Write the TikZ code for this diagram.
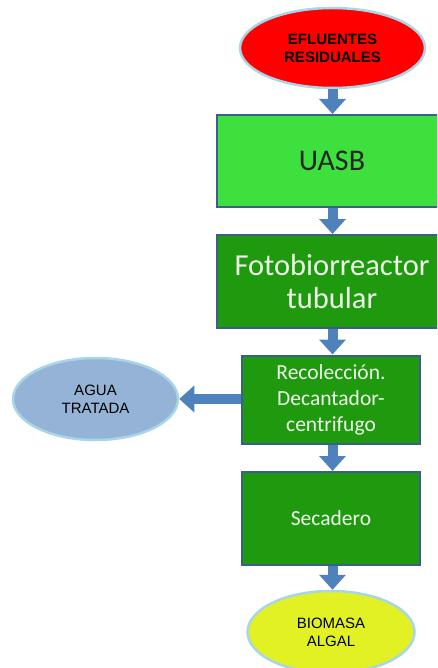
\documentclass[tikz,border=0pt]{standalone}
\usepackage{fontspec}
\setmainfont{Carlito}
\newfontfamily\arialf{Liberation Sans}
\usetikzlibrary{arrows.meta,shapes.geometric}
\definecolor{arrowblue}{HTML}{4F81BD}
\definecolor{boxborder}{HTML}{3A5F8B}
\definecolor{lightgreen}{HTML}{3DE03D}
\definecolor{darkgreen}{HTML}{1F9A0F}
\definecolor{ellborder}{HTML}{A8D6E6}
\definecolor{redfill}{HTML}{FF0000}
\definecolor{aguafill}{HTML}{95B3D7}
\definecolor{biofill}{HTML}{E2F124}
\definecolor{boxtext}{HTML}{EEF5E8}
\tikzset{
  procbox/.style={draw=boxborder, line width=2pt, rectangle, align=center, text=boxtext, inner sep=0pt},
  ellbox/.style={draw=ellborder, line width=2.5pt, ellipse, align=center, inner sep=0pt, font=\arialf},
  flow/.style={draw=arrowblue, line width=10pt, -{Triangle[width=26pt,length=15pt]}}
}
\begin{document}
\begin{tikzpicture}[x=1pt,y=-1pt]
\useasboundingbox (0,0) rectangle (437,668);
\clip (0,0) rectangle (437,668);
\node[ellbox, fill=redfill, minimum width=185pt, minimum height=80pt, font=\arialf\bfseries\fontsize{15}{18}\selectfont] (efl) at (332.5,48) {EFLUENTES\\RESIDUALES};
\node[procbox, fill=lightgreen, text=black!85, minimum width=230pt, minimum height=92pt, font=\fontsize{30}{34}\selectfont] (uasb) at (332,161) {UASB};
\node[procbox, fill=darkgreen, minimum width=230pt, minimum height=93pt, font=\fontsize{30.5}{33}\selectfont] (foto) at (332,281.5) {Fotobiorreactor\\tubular};
\node[procbox, fill=darkgreen, minimum width=178pt, minimum height=88pt, font=\fontsize{21.5}{26}\selectfont] (reco) at (331,399.5) {Recolección.\\Decantador-\\centrifugo};
\node[procbox, fill=darkgreen, minimum width=178pt, minimum height=93pt, font=\fontsize{21.5}{26}\selectfont] (seca) at (331,518.5) {Secadero};
\node[ellbox, fill=aguafill, minimum width=165pt, minimum height=82pt, font=\arialf\fontsize{15}{18}\selectfont] (agua) at (95.5,399) {AGUA\\TRATADA};
\node[ellbox, fill=biofill, minimum width=167pt, minimum height=82pt, font=\arialf\fontsize{15}{18}\selectfont] (bio) at (331,632) {BIOMASA\\ALGAL};
\draw[flow] (efl.south) -- (efl.south |- uasb.north);
\draw[flow] (uasb.south -| efl.south) -- (foto.north -| efl.south);
\draw[flow] (foto.south -| efl.south) -- (reco.north -| efl.south);
\draw[flow] (reco.south -| efl.south) -- (seca.north -| efl.south);
\draw[flow] (seca.south -| efl.south) -- (bio.north -| efl.south);
\draw[flow] (reco.west |- agua.east) -- (agua.east);
\end{tikzpicture}
\end{document}
